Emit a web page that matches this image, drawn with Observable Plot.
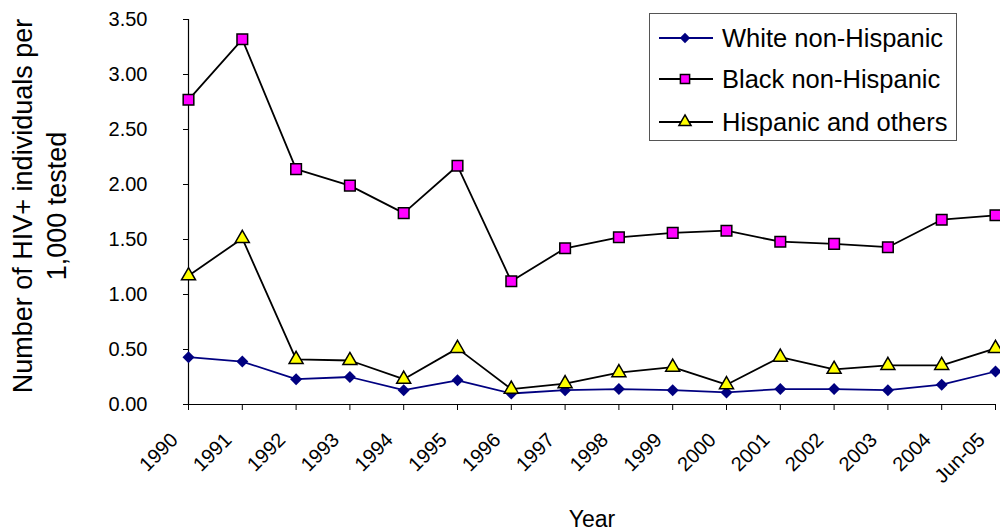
<!DOCTYPE html>
<html><head><meta charset="utf-8">
<script src="https://cdn.jsdelivr.net/npm/d3@7"></script>
<script src="https://cdn.jsdelivr.net/npm/@observablehq/plot@0.6"></script>
<style>
body{margin:0;background:#fff;}
#wrap{position:relative;width:1000px;height:532px;font-family:'Liberation Sans',Arial,sans-serif;}
#legend{position:absolute;left:649px;top:13px;width:306px;height:126px;border:1px solid #555;background:#fff;}
#legend svg{display:block;}
</style></head><body><div id="wrap"></div>
<script>
const years = ["1990","1991","1992","1993","1994","1995","1996","1997","1998","1999","2000","2001","2002","2003","2004","Jun-05"];
const white    = [0.43,0.39,0.23,0.25,0.13,0.22,0.10,0.13,0.14,0.13,0.11,0.14,0.14,0.13,0.18,0.30];
const black    = [2.77,3.32,2.14,1.99,1.74,2.17,1.12,1.42,1.52,1.56,1.58,1.48,1.46,1.43,1.68,1.72];
const hispanic = [1.17,1.51,0.41,0.40,0.23,0.51,0.14,0.19,0.29,0.34,0.18,0.43,0.32,0.355,0.355,0.51];
const seriesNames = ["White non-Hispanic","Black non-Hispanic","Hispanic and others"];
const yTicks = [0,0.5,1,1.5,2,2.5,3,3.5];
const yTitle = "Number of HIV+ individuals per\n1,000 tested";
const xTitle = "Year";

const styles = [
  {line:"#000080", fill:"#000080", stroke:"none", symbol:"diamond2", r:5.4},
  {line:"#000000", fill:"#FF00FF", stroke:"#000000", symbol:"square", r:6.0},
  {line:"#000000", fill:"#FFFF00", stroke:"#000000", symbol:"triangle", r:5.2}
];
const values = [white, black, hispanic];
const tables = values.map((arr, i) => arr.map((v, j) => ({year: years[j], value: v, series: seriesNames[i]})));

const font = "'Liberation Sans', Arial, sans-serif";
const marks = [
  Plot.ruleY([0], {stroke:"#000", strokeWidth:1.2}),
  Plot.ruleX([years[0]], {y1:0, y2:3.5, stroke:"#000", strokeWidth:1.2}),
  Plot.axisY({ticks:yTicks, tickFormat:d3.format(".2f"), tickSize:5, tickPadding:36, fontSize:20, label:null}),
  Plot.axisX({tickSize:6, tickFormat:null, label:null}),
  Plot.axisX({tickSize:0, tickRotate:-45, tickPadding:32, dx:-14, fontSize:20, label:null}),
  Plot.text([yTitle], {frameAnchor:"left", rotate:-90, dx:-150, dy:-6, fontSize:27, lineHeight:1.26, textAnchor:"middle", lineAnchor:"middle"}),
  Plot.text([xTitle], {frameAnchor:"bottom", dy:115, fontSize:23, textAnchor:"middle", lineAnchor:"middle"})
];
tables.forEach((t, i) => {
  const s = styles[i];
  marks.push(Plot.line(t, {x:"year", y:"value", stroke:s.line, strokeWidth:1.8}));
});
tables.forEach((t, i) => {
  const s = styles[i];
  marks.push(Plot.dot(t, {x:"year", y:"value", symbol:s.symbol, r:s.r, fill:s.fill, stroke:s.stroke, strokeWidth:1.5}));
});

const chart = Plot.plot({
  width:1000, height:532,
  marginLeft:188, marginRight:5, marginTop:19, marginBottom:128,
  style:{fontFamily:font, background:"#fff", color:"#000", overflow:"visible"},
  x:{type:"point", domain:years, padding:0, round:false},
  y:{domain:[0,3.5]},
  marks
});
const wrap = document.getElementById("wrap");
wrap.appendChild(chart);

// legend
const leg = document.createElement("div");
leg.id = "legend";
wrap.appendChild(leg);
const lsvg = d3.select(leg).append("svg").attr("width",306).attr("height",126);
const rowY = [24, 65, 108];
const symMap = {diamond2:d3.symbolDiamond2, square:d3.symbolSquare, triangle:d3.symbolTriangle};
seriesNames.forEach((name, i) => {
  const s = styles[i];
  const g = lsvg.append("g").attr("transform", `translate(0,${rowY[i]})`);
  g.append("line").attr("x1",9).attr("x2",63).attr("y1",0).attr("y2",0).attr("stroke",s.line).attr("stroke-width",1.8);
  g.append("path").attr("transform","translate(35,0)")
    .attr("d", d3.symbol(symMap[s.symbol], s.r*s.r*Math.PI*0.75)())
    .attr("fill", s.fill).attr("stroke", s.stroke).attr("stroke-width",1.5);
  g.append("text").attr("x",72).attr("y",0).attr("dy","0.35em")
    .attr("font-family",font).attr("font-size",25.5).attr("fill","#000").text(name);
});
</script></body></html>
